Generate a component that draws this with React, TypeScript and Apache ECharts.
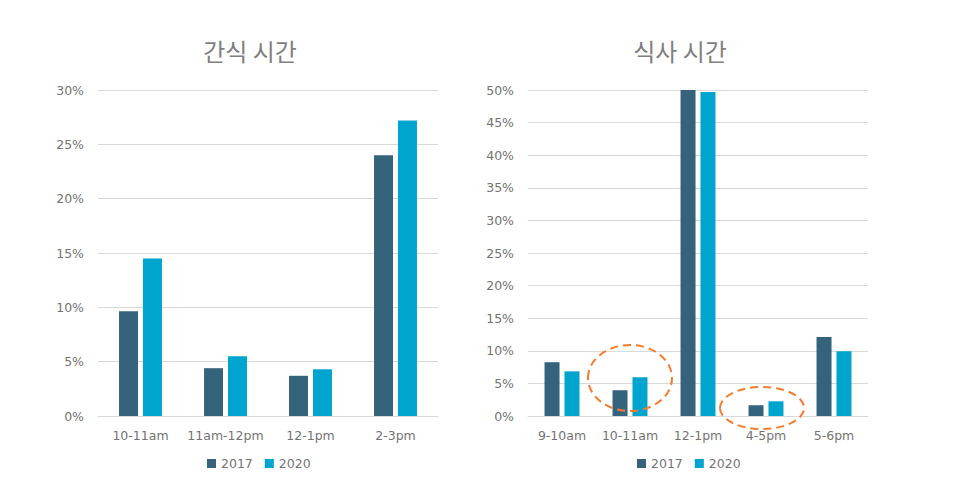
import { useEffect, useRef } from "react";
import * as echarts from "echarts";

const SNACK_CATEGORIES = ["10-11am", "11am-12pm", "12-1pm", "2-3pm"];
const SNACK_2017 = [9.65, 4.4, 3.7, 24.0];
const SNACK_2020 = [14.5, 5.5, 4.3, 27.2];

const MEAL_CATEGORIES = ["9-10am", "10-11am", "12-1pm", "4-5pm", "5-6pm"];
const MEAL_2017 = [8.25, 3.95, 50.0, 1.65, 12.1];
const MEAL_2020 = [6.85, 5.95, 49.7, 2.25, 9.95];

const SERIES_NAMES = ["2017", "2020"];
const TITLES = ["간식 시간", "식사 시간"];

const COLOR_2017 = "#35637c";
const COLOR_2020 = "#00a5cf";
const TEXT_COLOR = "#737373";
const GRID_COLOR = "#d9d9d9";
const FONT = "'DejaVu Sans', Verdana, sans-serif";

function axisPair(index: number, categories: string[], max: number) {
  const xAxis = {
    type: "category" as const,
    gridIndex: index,
    data: categories,
    axisTick: { show: false },
    axisLine: { lineStyle: { color: GRID_COLOR } },
    axisLabel: {
      color: TEXT_COLOR,
      fontSize: 12.5,
      fontFamily: FONT,
      margin: 13,
      interval: 0,
    },
  };
  const yAxis = {
    type: "value" as const,
    gridIndex: index,
    min: 0,
    max,
    interval: 5,
    axisLabel: {
      color: TEXT_COLOR,
      fontSize: 12.5,
      fontFamily: FONT,
      formatter: "{value}%",
      margin: 14,
    },
    splitLine: { lineStyle: { color: GRID_COLOR } },
  };
  return { xAxis, yAxis };
}

function barSeries(
  name: string,
  index: number,
  data: number[],
  color: string,
  barWidth: number,
  barGap: string,
) {
  return {
    name,
    type: "bar" as const,
    xAxisIndex: index,
    yAxisIndex: index,
    data,
    barWidth,
    barGap,
    itemStyle: { color },
  };
}

export default function App() {
  const chartRef = useRef<HTMLDivElement>(null);

  useEffect(() => {
    if (!chartRef.current) {
      return;
    }
    const chart = echarts.init(chartRef.current, null, { renderer: "svg" });

    const left = axisPair(0, SNACK_CATEGORIES, 30);
    const right = axisPair(1, MEAL_CATEGORIES, 50);

    const titleStyle = {
      color: "#7f7f7f",
      fontSize: 24,
      fontWeight: "normal" as const,
      fontFamily: "'Noto Sans CJK KR', sans-serif",
    };

    const legendBase = {
      top: 452,
      itemWidth: 9,
      itemHeight: 9,
      itemGap: 12,
      textStyle: { color: TEXT_COLOR, fontSize: 12.5, fontFamily: FONT },
      icon: "rect",
    };

    const ellipseStyle = {
      fill: "none",
      stroke: "#f47b2b",
      lineWidth: 2,
      lineDash: [8, 5],
    };

    chart.setOption({
      animation: false,
      title: [
        { text: TITLES[0], left: 250, top: 38, textAlign: "center", textStyle: titleStyle, padding: 0 },
        { text: TITLES[1], left: 680, top: 38, textAlign: "center", textStyle: titleStyle, padding: 0 },
      ],
      legend: [
        { ...legendBase, left: 202, data: SERIES_NAMES },
        { ...legendBase, left: 632, data: SERIES_NAMES },
      ],
      grid: [
        { left: 98, right: 540, top: 90, bottom: 64 },
        { left: 528, right: 110, top: 90, bottom: 64 },
      ],
      xAxis: [left.xAxis, right.xAxis],
      yAxis: [left.yAxis, right.yAxis],
      series: [
        barSeries(SERIES_NAMES[0], 0, SNACK_2017, COLOR_2017, 19, "26%"),
        barSeries(SERIES_NAMES[1], 0, SNACK_2020, COLOR_2020, 19, "26%"),
        barSeries(SERIES_NAMES[0], 1, MEAL_2017, COLOR_2017, 15, "33%"),
        barSeries(SERIES_NAMES[1], 1, MEAL_2020, COLOR_2020, 15, "33%"),
      ],
      graphic: [
        { type: "ellipse", shape: { cx: 630, cy: 378, rx: 42, ry: 33 }, style: ellipseStyle, z: 100 },
        { type: "ellipse", shape: { cx: 762, cy: 408, rx: 42, ry: 21 }, style: ellipseStyle, z: 100 },
      ],
    });

    return () => {
      chart.dispose();
    };
  }, []);

  return (
    <div
      ref={chartRef}
      style={{ position: "fixed", left: 0, top: 0, width: 978, height: 480, background: "#fff" }}
    />
  );
}
